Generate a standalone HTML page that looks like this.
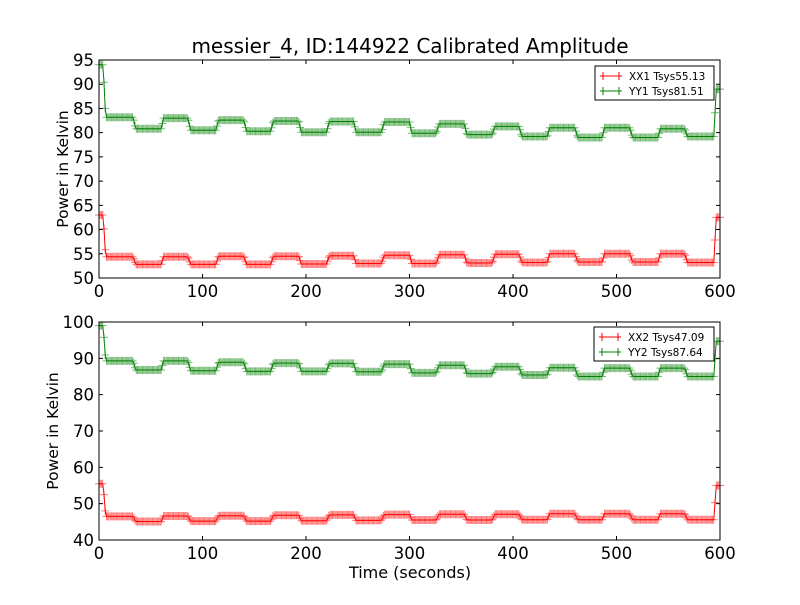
<!DOCTYPE html>
<html><head><meta charset="utf-8"><style>
body{margin:0;background:#fff}
svg text{font-family:"DejaVu Sans","Liberation Sans",sans-serif}
</style></head><body>
<svg id="c" width="800" height="600" xmlns="http://www.w3.org/2000/svg">
<rect width="800" height="600" fill="#fff"/>
<text x="410" y="53" font-size="20" text-anchor="middle">messier_4, ID:144922 Calibrated Amplitude</text>
</svg>
<script>
// segment boundaries (seconds): first = initial spike end, then alternating high/low segments
const segBounds=[4,33,60,86,113,140,166,193,220,246,273,300,326,353,380,406,433,460,486,513,540,566,594];
const xx1High=[54.4,54.4,54.5,54.5,54.6,54.7,54.8,54.9,55.0,55.0,55.0];
const xx1Low=[52.8,52.8,52.8,52.9,53.0,53.0,53.1,53.2,53.3,53.3,53.2];
const yy1High=[83.2,83.0,82.6,82.4,82.3,82.2,81.8,81.3,81.0,81.0,80.8];
const yy1Low=[80.8,80.5,80.3,80.1,80.1,79.9,79.6,79.2,79.0,79.0,79.2];
const xx2High=[46.5,46.6,46.7,46.8,46.9,47.0,47.1,47.1,47.2,47.2,47.2];
const xx2Low=[45.1,45.2,45.2,45.3,45.4,45.5,45.5,45.6,45.6,45.6,45.6];
const yy2High=[89.3,89.3,88.9,88.7,88.6,88.4,88.1,87.7,87.4,87.3,87.3];
const yy2Low=[86.8,86.6,86.4,86.4,86.3,86.0,85.8,85.4,85.0,85.0,85.0];
const startSpike={xx1:63,yy1:94,xx2:55.5,yy2:99};
const endSpike={xx1:62.5,yy1:89,xx2:55,yy2:94.7};
const xTicks=[0,100,200,300,400,500,600];
const topYTicks=[50,55,60,65,70,75,80,85,90,95];
const botYTicks=[40,50,60,70,80,90,100];
const legendTop=["XX1 Tsys55.13","YY1 Tsys81.51"];
const legendBot=["XX2 Tsys47.09","YY2 Tsys87.64"];

const svg=document.getElementById('c');
const NS='http://www.w3.org/2000/svg';
function mk(t,a,p){const e=document.createElementNS(NS,t);for(const k in a)e.setAttribute(k,a[k]);(p||svg).appendChild(e);return e;}

function levelAt(t,hi,lo,s0,s1){
  const n=segBounds.length;
  if(t<segBounds[0])return s0;
  if(t>=segBounds[n-1])return s1;
  let i=0;while(i<n-2&&t>=segBounds[i+1])i++;
  return (i%2===0)?hi[i/2]:lo[(i-1)/2];
}
function series(hi,lo,s0,s1){
  const pts=[];
  const ramp=2.4;
  for(let t=0;t<=600.01;t+=1.2){
    let v=levelAt(t,hi,lo,s0,s1);
    for(const b of segBounds){
      if(t>=b&&t<b+ramp){
        const a=levelAt(b-0.01,hi,lo,s0,s1),c=levelAt(b+ramp,hi,lo,s0,s1);
        v=a+(c-a)*((t-b)/ramp);
      }
    }
    pts.push([t,v]);
  }
  return pts;
}

function panel(o){
  const L=99,R=720,T=o.T,B=o.B;
  const xs=t=>L+(t-0)/600*(R-L);
  const ys=v=>B-(v-o.ymin)/(o.ymax-o.ymin)*(B-T);
  const g=mk('g',{});
  
  
  o.series.forEach(s=>{
    const pts=series(s.hi,s.lo,s.s0,s.s1);
    const sg=mk('g',{},g);
    
    
    let d='';pts.forEach(p=>{const x=xs(p[0]),y=ys(p[1]);d+=`M${(x-4).toFixed(1)} ${y.toFixed(1)}h8M${x.toFixed(1)} ${(y-4).toFixed(1)}v8`;});
    mk('path',{d:d,stroke:s.c,'stroke-width':1,fill:'none','stroke-opacity':0.55},sg);
    mk('polyline',{points:pts.map(p=>xs(p[0]).toFixed(1)+','+ys(p[1]).toFixed(1)).join(' '),fill:'none',stroke:s.c,'stroke-width':1},sg);
  });
  mk('rect',{x:L,y:T,width:R-L,height:B-T,fill:'none',stroke:'#000','stroke-width':1},g);
  xTicks.forEach(t=>{const x=xs(t);
    mk('path',{d:`M${x} ${B}v-4M${x} ${T}v4`,stroke:'#000'},g);
    const tx=mk('text',{x:x,y:B+19,'font-size':16.5,'text-anchor':'middle'},g);tx.textContent=t;
    
    });
  o.yt.forEach(v=>{const y=ys(v);
    mk('path',{d:`M${L} ${y}h4M${R} ${y}h-4`,stroke:'#000'},g);
    const tx=mk('text',{x:L-5,y:y+6,'font-size':16.5,'text-anchor':'end'},g);tx.textContent=v;
    
    });
  const yl=mk('text',{x:0,y:0,'font-size':15.5,'text-anchor':'middle',transform:`translate(${o.ylx},${(T+B)/2}) rotate(-90)`},g);
  yl.textContent='Power in Kelvin';
  
  
  const lg=mk('g',{},g);
  
  
  mk('rect',{x:o.lx,y:o.ly,width:714-o.lx,height:34,fill:'#fff',stroke:'#000'},lg);
  o.leg.forEach((t,i)=>{const y=o.ly+10+i*15;const c=o.series[i].c;
    mk('path',{d:`M${o.lx+5} ${y}h22M${o.lx+8} ${y-4}v8M${o.lx+24} ${y-4}v8`,stroke:c},lg);
    const tx=mk('text',{x:o.lx+34,y:y+4,'font-size':10.5},lg);tx.textContent=t;
    
    });
}
panel({name:'top-panel',T:60,B:278,ymin:50,ymax:95,yt:topYTicks,ylx:68,lx:595,ly:66,leg:legendTop,
  series:[{id:'xx1',c:'#ff0000',hi:xx1High,lo:xx1Low,s0:startSpike.xx1,s1:endSpike.xx1},
          {id:'yy1',c:'#008000',hi:yy1High,lo:yy1Low,s0:startSpike.yy1,s1:endSpike.yy1}]});
panel({name:'bottom-panel',T:322,B:540,ymin:40,ymax:100,yt:botYTicks,ylx:58,lx:594,ly:327,leg:legendBot,
  series:[{id:'xx2',c:'#ff0000',hi:xx2High,lo:xx2Low,s0:startSpike.xx2,s1:endSpike.xx2},
          {id:'yy2',c:'#008000',hi:yy2High,lo:yy2Low,s0:startSpike.yy2,s1:endSpike.yy2}]});
const xl=mk('text',{x:410,y:578,'font-size':16,'text-anchor':'middle'});
xl.textContent='Time (seconds)';


</script>
</body></html>
